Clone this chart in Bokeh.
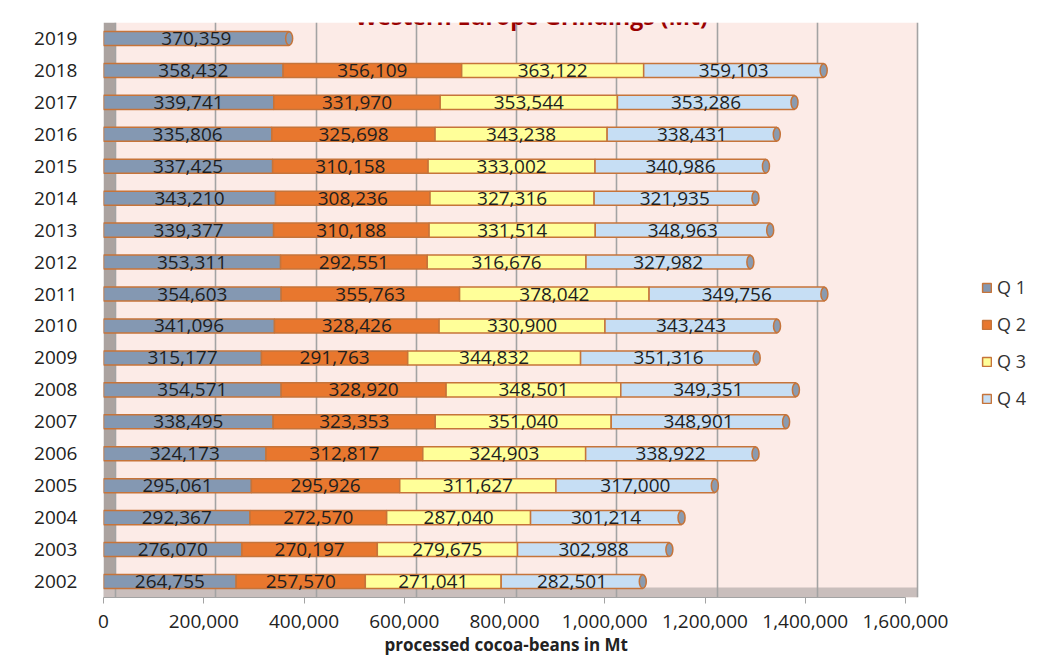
import numpy as np
from bokeh.plotting import figure
from bokeh.models import (Range1d, FactorRange, Grid, FixedTicker, Legend, LegendItem,
                          Label, BoxAnnotation, NumeralTickFormatter, ColumnDataSource, Title)
from bokeh.core.properties import value
from bokeh.embed import file_html
from bokeh.resources import INLINE

years = [str(y) for y in range(2002, 2020)]
q1 = [264755, 276070, 292367, 295061, 324173, 338495, 354571, 315177, 341096,
      354603, 353311, 339377, 343210, 337425, 335806, 339741, 358432, 370359]
q2 = [257570, 270197, 272570, 295926, 312817, 323353, 328920, 291763, 328426,
      355763, 292551, 310188, 308236, 310158, 325698, 331970, 356109, 0]
q3 = [271041, 279675, 287040, 311627, 324903, 351040, 348501, 344832, 330900,
      378042, 316676, 331514, 327316, 333002, 343238, 353544, 363122, 0]
q4 = [282501, 302988, 301214, 317000, 338922, 348901, 349351, 351316, 343243,
      349756, 327982, 348963, 321935, 340986, 338431, 353286, 359103, 0]
series_names = ["Q 1", "Q 2", "Q 3", "Q 4"]
x_ticks = [0, 200000, 400000, 600000, 800000, 1000000, 1200000, 1400000, 1600000]
title_text = "Western Europe Grindings (Mt)"
x_label = "processed cocoa-beans in Mt"

colors = ["#8498B2", "#E8772E", "#FFFF99", "#C6DEF4"]
outline = "#C6743A"
FONT = "Open Sans"

p = figure(width=1040, height=655, output_backend="svg", toolbar_location=None,
           y_range=FactorRange(factors=years), x_range=Range1d(0, 1869300),
           min_border_left=103, min_border_right=0, min_border_top=22, min_border_bottom=50)
p.extra_x_ranges = {"back": Range1d(-23940, 1845360)}
p.background_fill_color = "white"
p.border_fill_color = "white"
p.outline_line_color = None
p.xgrid.visible = False
p.ygrid.visible = False

# 3-D style back wall, side wall and floor
p.add_layout(BoxAnnotation(left=0, right=1600000, x_range_name="back", fill_color="#FCEBE7",
                           fill_alpha=1, line_color=None, level="underlay"))
p.add_layout(BoxAnnotation(left=-23940, right=0, x_range_name="back", fill_color="#ABA3A0",
                           fill_alpha=1, line_color=None, level="underlay"))
p.add_layout(BoxAnnotation(left=-23940, right=1600000, x_range_name="back", top=10, top_units="screen",
                           fill_color="#C9BEBC", fill_alpha=1, line_color=None, level="underlay"))
p.add_layout(Grid(dimension=0, ticker=FixedTicker(ticks=x_ticks), x_range_name="back",
                  grid_line_color="#A3A3A3", grid_line_width=1.6))

vals = np.array([q1, q2, q3, q4], dtype=float)
cum = np.cumsum(vals, axis=0)
lefts = cum - vals
totals = cum[-1]

renderers = []
for i in range(4):
    src = ColumnDataSource(dict(y=years, left=lefts[i], right=cum[i]))
    r = p.hbar(y="y", left="left", right="right", height=0.44, source=src,
               fill_color=colors[i], line_color=outline, line_width=1.5)
    renderers.append(r)

# cylinder end caps
p.ellipse(x=totals, y=years, width=7, width_units="screen", height=0.42,
          fill_color="#8A9BB0", line_color=outline, line_width=1.5)

# value labels
tx, ty, tt = [], [], []
for i in range(4):
    for j, yv in enumerate(years):
        if vals[i, j] > 0:
            tx.append((lefts[i, j] + cum[i, j]) / 2)
            ty.append(yv)
            tt.append(f"{int(vals[i, j]):,}")
p.text(x=tx, y=ty, text=tt, text_align="center", text_baseline="middle",
       text_font=value(FONT), text_font_size="19px", text_color="#1E1E1E")

# axes
p.xaxis.ticker = FixedTicker(ticks=x_ticks)
p.xaxis.formatter = NumeralTickFormatter(format="0,0")
p.xaxis.bounds = (0, 1600000)
p.xaxis.axis_line_color = "#A3A3A3"
p.xaxis.major_tick_line_color = "#A3A3A3"
p.xaxis.major_tick_out = 6
p.xaxis.major_tick_in = 0
p.xaxis.minor_tick_line_color = None
p.xaxis.major_label_text_font = FONT
p.xaxis.major_label_text_font_size = "19px"
p.xaxis.major_label_text_color = "#222222"
p.xaxis.major_label_standoff = 11

p.yaxis.axis_line_color = None
p.yaxis.major_tick_line_color = None
p.yaxis.major_label_text_font = FONT
p.yaxis.major_label_text_font_size = "19px"
p.yaxis.major_label_text_color = "#222222"
p.yaxis.major_label_standoff = 20

# x-axis title, placed under the 0..1,600,000 axis
p.add_layout(Title(text=x_label, align="left", offset=281, standoff=0,
                   text_font=FONT, text_font_size="17px", text_font_style="bold",
                   text_color="#222222"), "below")

# chart title
p.add_layout(Label(x=428, y=582, x_units="screen", y_units="screen", text=title_text,
                   text_align="center", text_baseline="alphabetic",
                   text_font=FONT, text_font_size="23px", text_font_style="bold",
                   text_color="#990000"))

legend = Legend(items=[LegendItem(label=n, renderers=[r]) for n, r in zip(series_names, renderers)],
                location=(878, 187), glyph_width=11, glyph_height=11, spacing=13,
                label_text_font=FONT, label_text_font_size="18px", label_text_color="#333333",
                border_line_color=None, background_fill_alpha=0)
p.add_layout(legend)

open("out.html", "w").write(file_html(p, INLINE))
